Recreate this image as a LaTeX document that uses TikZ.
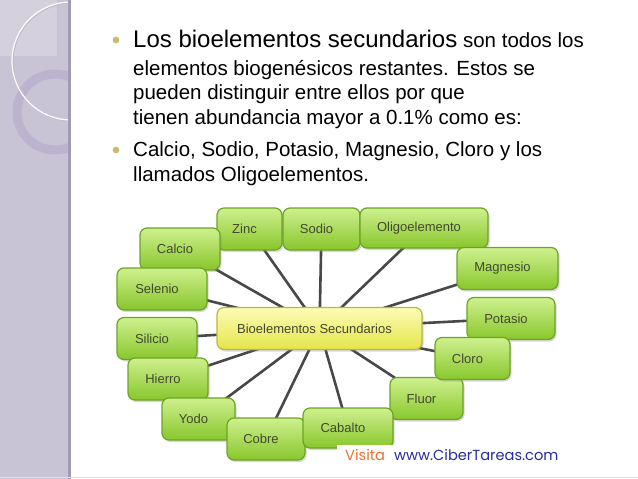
\documentclass[tikz,border=0pt]{standalone}
\usepackage{fontspec}
\setmainfont{Liberation Sans}
\newfontfamily\webfont{Poppins}
\usetikzlibrary{shadows,backgrounds}
\definecolor{sidebar}{RGB}{201,196,213}
\definecolor{sideedge}{RGB}{162,156,178}
\definecolor{sidelight}{RGB}{212,208,222}
\definecolor{ringcol}{RGB}{188,180,207}
\definecolor{gold}{RGB}{204,184,110}
\definecolor{greentop}{RGB}{206,240,142}
\definecolor{greenbot}{RGB}{136,198,44}
\definecolor{greenedge}{RGB}{108,164,38}
\definecolor{yellowtop}{RGB}{252,252,184}
\definecolor{yellowbot}{RGB}{230,228,72}
\definecolor{yellowedge}{RGB}{188,184,62}
\definecolor{labeltext}{RGB}{66,72,46}
\definecolor{spokecol}{RGB}{72,72,72}
\definecolor{visitorange}{RGB}{232,112,52}
\definecolor{visitblue}{RGB}{40,44,160}

\begin{document}
\begin{tikzpicture}[x=1pt,y=-1pt,
  elem/.style={draw=greenedge,line width=1.2pt,rounded corners=7pt,
    top color=greentop,bottom color=greenbot,
    drop shadow={shadow xshift=1.5pt,shadow yshift=-2pt,opacity=0.3},
    text=labeltext,font=\fontsize{13}{15}\selectfont,
    minimum height=42pt,inner sep=0pt,
    execute at begin node={\hspace*{-10pt}}},
  hubbox/.style={elem,draw=yellowedge,top color=yellowtop,bottom color=yellowbot},
  spoke/.style={draw=spokecol,line width=2.6pt},
  bodytext/.style={anchor=base west,inner sep=0pt,font=\fontsize{20.5}{24.5}\selectfont}]
  \useasboundingbox (0,0) rectangle (638,479);

  % side bar
  \fill[sidebar] (0,0) rectangle (69,479);
  \fill[sidelight] (0,0) rectangle (57,56);
  \begin{scope}
    \clip (0,0) rectangle (69,479);
    \draw[ringcol,line width=9pt] (55,112) circle[radius=38];
    \draw[sideedge!70,line width=1pt] (72,62) circle[radius=59];
    \draw[white,line width=1.2pt] (71,61) circle[radius=59];
  \end{scope}
  \fill[sideedge] (68,0) rectangle (71,479);

  % bullets and text
  \fill[gold] (116,40) circle[radius=3.4];
  \fill[gold] (116,150) circle[radius=3.4];
  \node[bodytext] (line1) at (133,47.5) {{\fontsize{24}{28}\selectfont Los bioelementos secundarios} son todos los};
  \node[bodytext] (line2) at (133,75) {elementos biogenésicos restantes. Estos se};
  \node[bodytext] (line3) at (133,99.5) {pueden distinguir entre ellos por que};
  \node[bodytext] (line4) at (133,124) {tienen abundancia mayor a 0.1\% como es:};
  \node[bodytext] (line5) at (133,156.5) {Calcio, Sodio, Potasio, Magnesio, Cloro y los};
  \node[bodytext] (line6) at (133,181.5) {llamados Oligoelementos.};

  % element map
  \node[elem,minimum width=65pt] (zinc) at (249.5,229) {Zinc};
  \node[elem,minimum width=77pt] (sodio) at (321.5,229) {Sodio};
  \node[elem,minimum width=128pt,minimum height=40pt] (oligo) at (424,228) {Oligoelemento};
  \node[elem,minimum width=80pt] (calcio) at (180,249) {Calcio};
  \node[elem,minimum width=90pt] (selenio) at (162,289) {Selenio};
  \node[elem,minimum width=80pt] (silicio) at (157,338.5) {Silicio};
  \node[elem,minimum width=80pt] (hierro) at (168,379) {Hierro};
  \node[elem,minimum width=73pt] (yodo) at (198.5,419) {Yodo};
  \node[elem,minimum width=78pt] (cobre) at (266,439) {Cobre};
  \node[elem,minimum width=73pt] (fluor) at (426.5,398.5) {Fluor};
  \node[elem,minimum width=90pt,minimum height=40pt] (cabalto) at (348,428) {Cabalto};
  \node[elem,minimum width=101pt] (magnesio) at (507.5,268.5) {Magnesio};
  \node[elem,minimum width=88pt] (potasio) at (511,318.5) {Potasio};
  \node[elem,minimum width=75pt] (cloro) at (472.5,358.5) {Cloro};
  \node[hubbox,minimum width=205pt] (hub) at (319.5,328.5) {Bioelementos Secundarios};
  \begin{scope}[on background layer]
    \foreach \n in {zinc,sodio,oligo,calcio,selenio,silicio,hierro,yodo,cobre,cabalto,fluor,cloro,potasio,magnesio}
      \draw[spoke] (hub.center) -- (\n.center);
  \end{scope}

  % footer
  \fill[white] (337,445) rectangle (566,472);
  \node[anchor=base west,inner sep=0pt,font=\webfont\fontsize{14.6}{16}\selectfont,text=visitorange] (visita) at (345,460) {Visita};
  \node[anchor=base west,inner sep=0pt,font=\webfont\fontsize{14.6}{16}\selectfont,text=visitblue] (web) at (394,460) {www.CiberTareas.com};
  \draw[gray!25,line width=1pt] (0,477.5) -- (638,477.5);
\end{tikzpicture}
\end{document}
